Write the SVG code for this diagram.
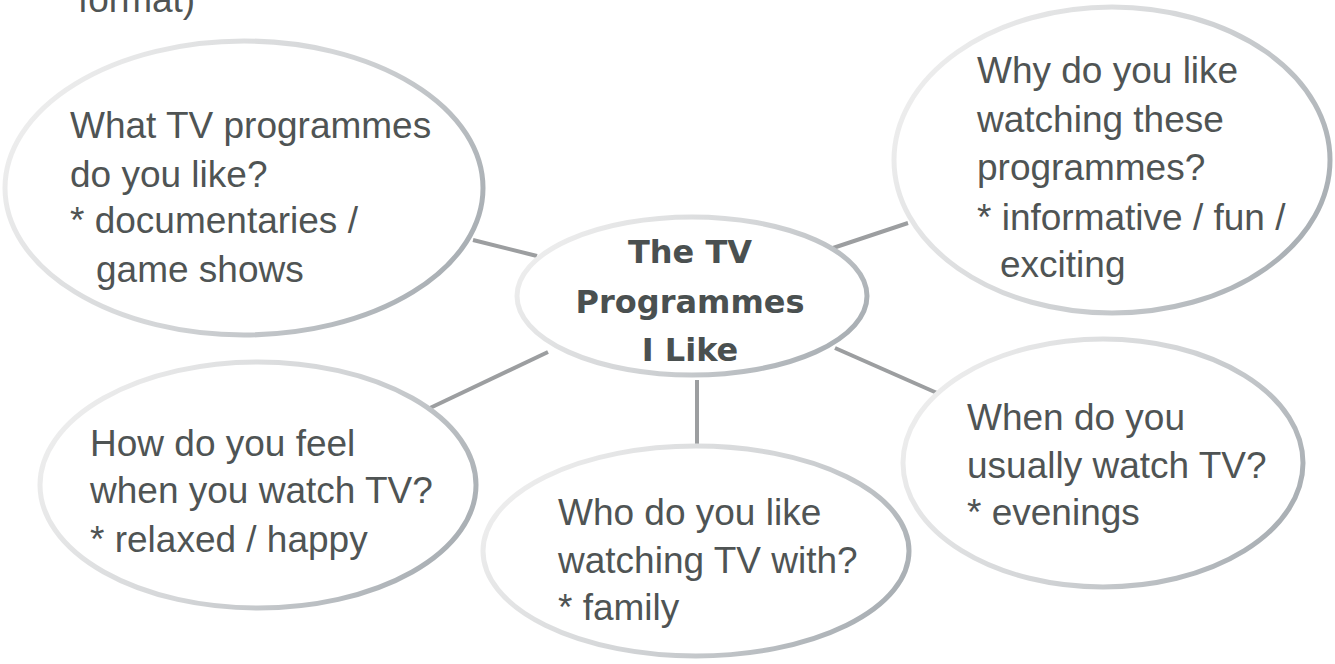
<svg xmlns="http://www.w3.org/2000/svg" width="1335" height="664" viewBox="0 0 1335 664">
<defs>
<linearGradient id="rim" x1="0" y1="0.3" x2="1" y2="0.7">
<stop offset="0" stop-color="#eeeeee"/>
<stop offset="0.5" stop-color="#d4d6d8"/>
<stop offset="1" stop-color="#a7adb2"/>
</linearGradient>
<style>
.bubble{fill:#ffffff;stroke:url(#rim);stroke-width:5}
.txt{font-family:"Liberation Sans",Arial,sans-serif;font-size:37px;fill:#4f5454}
.hd{font-family:"DejaVu Sans","Liberation Sans",sans-serif;font-size:32px;font-weight:bold;fill:#4a5050;text-anchor:middle}
.link{stroke:#9c9ea0;stroke-width:4;fill:none}
</style>
</defs>
<rect width="1335" height="664" fill="#ffffff"/>
<text class="txt" x="78" y="12">format)</text>
<g id="connectors">
<line class="link" x1="473" y1="240" x2="537" y2="256"/>
<line class="link" x1="430" y1="408" x2="548" y2="352"/>
<line class="link" x1="833" y1="248" x2="908" y2="223"/>
<line class="link" x1="835" y1="348" x2="937" y2="393"/>
<line class="link" x1="697" y1="380" x2="697" y2="446"/>
</g>
<g id="node-center">
<ellipse class="bubble" cx="692" cy="296" rx="175" ry="79"/>
<text class="hd" x="690" y="263">The TV</text>
<text class="hd" x="690" y="313">Programmes</text>
<text class="hd" x="690" y="361">I Like</text>
</g>
<g id="node-what">
<ellipse class="bubble" cx="244" cy="188" rx="239" ry="147"/>
<text class="txt" x="70" y="138">What TV programmes</text>
<text class="txt" x="70" y="187">do you like?</text>
<text class="txt" x="70" y="233">* documentaries /</text>
<text class="txt" x="96" y="282">game shows</text>
</g>
<g id="node-why">
<ellipse class="bubble" cx="1112" cy="160" rx="218" ry="153"/>
<text class="txt" x="977" y="83">Why do you like</text>
<text class="txt" x="977" y="132">watching these</text>
<text class="txt" x="977" y="180">programmes?</text>
<text class="txt" x="977" y="230">* informative / fun /</text>
<text class="txt" x="1000" y="277">exciting</text>
</g>
<g id="node-how">
<ellipse class="bubble" cx="258" cy="485" rx="218" ry="123"/>
<text class="txt" x="90" y="456">How do you feel</text>
<text class="txt" x="90" y="503">when you watch TV?</text>
<text class="txt" x="90" y="552">* relaxed / happy</text>
</g>
<g id="node-who">
<ellipse class="bubble" cx="696" cy="551" rx="213" ry="105"/>
<text class="txt" x="558" y="525">Who do you like</text>
<text class="txt" x="558" y="573">watching TV with?</text>
<text class="txt" x="558" y="620">* family</text>
</g>
<g id="node-when">
<ellipse class="bubble" cx="1103" cy="463" rx="200" ry="124"/>
<text class="txt" x="967" y="430">When do you</text>
<text class="txt" x="967" y="478">usually watch TV?</text>
<text class="txt" x="967" y="525">* evenings</text>
</g>
</svg>
